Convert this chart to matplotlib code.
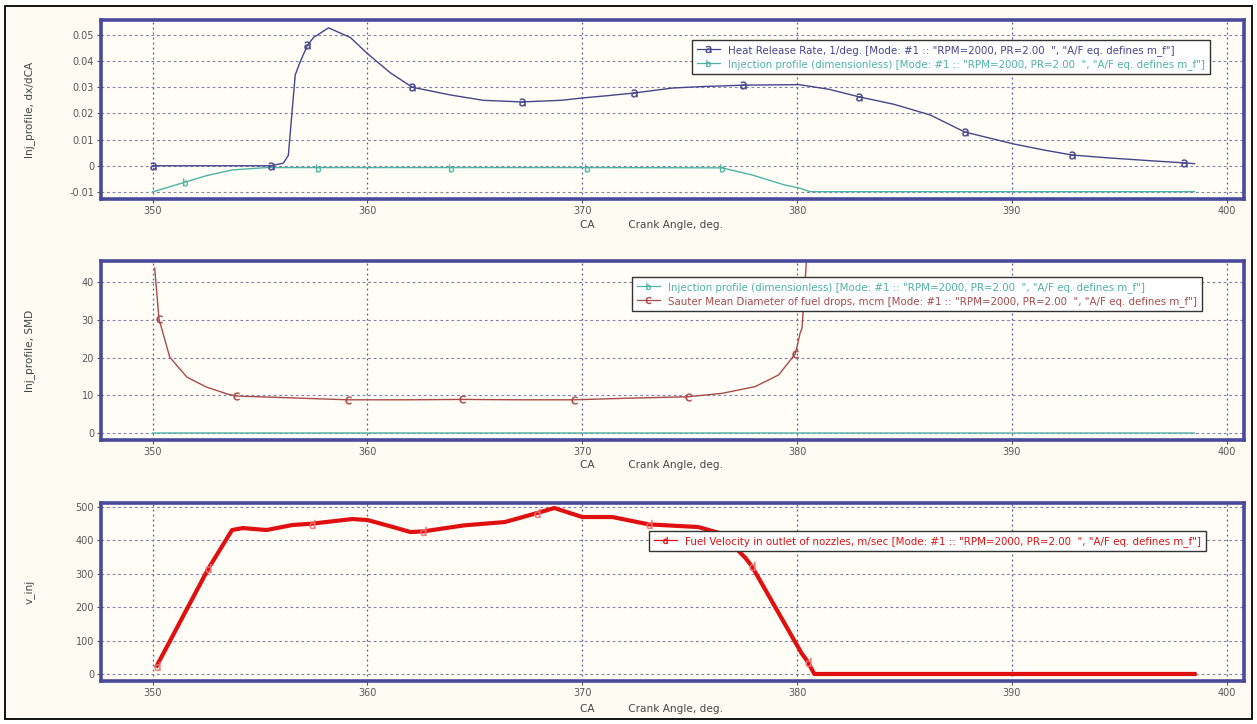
import numpy as np
import matplotlib
matplotlib.use('Agg')
import matplotlib.pyplot as plt
from matplotlib.lines import Line2D
from matplotlib.patches import Rectangle

# ---------------- data ----------------
ca_ticks = [350, 360, 370, 380, 390, 400]

hrr_x = [350, 352, 354, 355.5, 356.09, 356.32, 356.48, 356.64, 356.87, 357.21, 357.49,
         358.19, 359.21, 359.98, 361.07, 362.09, 363.9, 365.4, 367.2, 369.0, 370.0,
         371.2, 372.4, 374.2, 375.4, 377.5, 380.1, 381.5, 382.9, 384.5, 386.2, 387.8,
         389.0, 390.1, 391.5, 392.8, 394.5, 396.5, 398.0, 398.5]
hrr_y = [0, 0, 0, 0, 0.001, 0.004, 0.0194, 0.0347, 0.0397, 0.046, 0.049,
         0.0527, 0.049, 0.043, 0.0355, 0.030, 0.027, 0.025, 0.0244, 0.0250, 0.0259,
         0.0268, 0.0278, 0.0297, 0.0302, 0.0308, 0.0310, 0.0292, 0.0263, 0.0235, 0.0194, 0.0129,
         0.0105, 0.0083, 0.0060, 0.0041, 0.0030, 0.0019, 0.0011, 0.0008]
hrr_marks = [350, 355.5, 357.21, 362.09, 367.2, 372.4, 377.5, 382.9, 387.8, 392.8, 398.0]

inj_x = [350, 351.5, 352.5, 353.7, 355.3, 357.7, 363.9, 370.2, 376.5, 377.9, 379.4,
         380.1, 380.6, 398.5]
inj_y = [-0.010, -0.0063, -0.0038, -0.0016, -0.0007, -0.0007, -0.0007, -0.0007, -0.0008,
         -0.0035, -0.0073, -0.0085, -0.0099, -0.0099]
inj_marks = [351.5, 357.7, 363.9, 370.2, 376.5]

smd_x = [350.1, 350.3, 350.8, 351.6, 352.5, 353.5, 353.9, 356.0, 359.1, 362.0, 364.4,
         367.0, 369.6, 372.0, 374.9, 376.5, 378.05, 379.14, 379.92, 380.14, 380.23, 380.45]
smd_y = [43.7, 30.2, 20.1, 14.8, 12.2, 10.3, 9.8, 9.4, 8.8, 8.8, 8.9,
         8.8, 8.8, 9.2, 9.6, 10.5, 12.3, 15.4, 21.0, 26.5, 27.8, 47.0]
smd_marks = [350.3, 353.9, 359.1, 364.4, 369.6, 374.9, 379.92]

vel_x = [350.2, 352.6, 353.7, 354.2, 355.3, 356.5, 357.4, 359.3, 360.0, 361.2, 362.0,
         362.6, 364.5, 366.4, 367.9, 368.7, 370.0, 371.4, 373.1, 375.4, 376.5, 377.6,
         377.9, 380.2, 380.5, 380.8, 398.5]
vel_y = [25, 316, 431, 437, 431, 446, 450, 464, 461, 440, 425,
         427, 445, 455, 482, 497, 470, 470, 448, 440, 420, 347,
         322, 63, 36, 0, 0]
vel_marks = [350.2, 352.6, 357.4, 362.6, 367.9, 373.1, 377.9, 380.5]

mode = ' [Mode: #1 :: "RPM=2000, PR=2.00  ", "A/F eq. defines m_f"]'
lab_hrr = 'Heat Release Rate, 1/deg.' + mode
lab_inj = 'Injection profile (dimensionless)' + mode
lab_smd = 'Sauter Mean Diameter of fuel drops, mcm' + mode
lab_vel = 'Fuel Velocity in outlet of nozzles, m/sec' + mode

# ---------------- style ----------------
C_HRR = '#45458c'
C_INJ = '#4fb3a3'
C_SMD = '#a84a4a'
C_VEL = '#e01010'
SPINE = '#4a4a9c'
BG = '#fdfbf1'
AXBG = '#fffdf5'
FS = 7
LBS = 7.6
LFS = 7.4

plt.rcParams['font.family'] = ['DejaVu Sans']

W, H = 1257, 724
fig = plt.figure(figsize=(W / 100, H / 100), dpi=100, facecolor='white')
fig.patches.append(Rectangle((5 / W, 5 / H), 1247 / W, 713 / H, transform=fig.transFigure,
                             facecolor=BG, edgecolor='black', lw=1.3, zorder=-10))


def idx(xs, marks):
    return [xs.index(m) for m in marks]


def mk(ch):
    return r'$\mathsf{%s}$' % ch


def make_ax(top, bottom):
    left, right = 101, 1244
    ax = fig.add_axes([left / W, 1 - bottom / H, (right - left) / W, (bottom - top) / H])
    ax.set_facecolor(AXBG)
    for s in ax.spines.values():
        s.set_color(SPINE)
        s.set_linewidth(2.6)
    ax.set_xlim(347.6, 400.8)
    ax.set_xticks(ca_ticks)
    ax.xaxis.grid(True, color='#5656a6', ls=(0, (1.5, 2.5)), lw=0.9)
    ax.yaxis.grid(True, color='#8080ae', ls=(0, (2.5, 2.5)), lw=0.8)
    ax.set_axisbelow(True)
    ax.tick_params(labelsize=FS, colors='#555555', length=3, width=0.8, pad=2)
    ax.set_xlabel('CA          Crank Angle, deg.', fontsize=LBS, color='#444444')
    return ax


def legend(ax, handles, labels, x0, y0):
    leg = ax.legend(handles, labels, loc='upper left', bbox_to_anchor=(x0, y0),
                    fontsize=LFS, frameon=True, fancybox=False, framealpha=1,
                    facecolor='white', edgecolor='#333333', borderaxespad=0,
                    handlelength=2.3, handletextpad=0.8, borderpad=0.45,
                    labelspacing=0.3, numpoints=1)
    leg.get_frame().set_linewidth(1.0)
    for t, h in zip(leg.get_texts(), handles):
        t.set_color(h.get_color())
    return leg


def proxy(color, ch):
    return Line2D([], [], color=color, lw=0.9, marker=mk(ch), markersize=5,
                  markeredgewidth=0.3)


# ---- panel 1 ----
ax1 = make_ax(20, 199)
ax1.plot(inj_x, inj_y, color=C_INJ, lw=1.0, marker=mk('b'), markersize=5.5,
         markeredgewidth=0.3, markevery=idx(inj_x, inj_marks))
ax1.plot(hrr_x, hrr_y, color=C_HRR, lw=1.0, marker=mk('a'), markersize=5.5,
         markeredgewidth=0.3, markevery=idx(hrr_x, hrr_marks))
ax1.set_ylim(-0.0127, 0.0557)
ax1.set_yticks([-0.01, 0, 0.01, 0.02, 0.03, 0.04, 0.05])
ax1.set_yticklabels(['-0.01', '0', '0.01', '0.02', '0.03', '0.04', '0.05'])
ax1.set_ylabel('Inj_profile, dx/dCA', fontsize=LBS, color='#444444')
legend(ax1, [proxy(C_HRR, 'a'), proxy(C_INJ, 'b')], [lab_hrr, lab_inj],
       (692 - 101) / 1143, 1 - (40 - 20) / 179)

# ---- panel 2 ----
ax2 = make_ax(261, 440)
ax2.plot(inj_x, inj_y, color=C_INJ, lw=1.0)
ax2.plot(smd_x, smd_y, color=C_SMD, lw=1.0, marker=mk('c'), markersize=5.5,
         markeredgewidth=0.3, markevery=idx(smd_x, smd_marks))
ax2.set_ylim(-1.86, 45.6)
ax2.set_yticks([0, 10, 20, 30, 40])
ax2.set_ylabel('Inj_profile, SMD', fontsize=LBS, color='#444444')
legend(ax2, [proxy(C_INJ, 'b'), proxy(C_SMD, 'c')], [lab_inj, lab_smd],
       (632 - 101) / 1143, 1 - (277 - 261) / 179)

# ---- panel 3 ----
ax3 = make_ax(503, 681)
ax3.plot(vel_x, vel_y, color=C_VEL, lw=3.0, marker=mk('d'), markersize=6.5,
         markeredgewidth=0.3, markevery=idx(vel_x, vel_marks),
         markerfacecolor='#f07070', markeredgecolor='#f07070')
ax3.set_ylim(-21, 512)
ax3.set_yticks([0, 100, 200, 300, 400, 500])
ax3.set_ylabel('v_inj', fontsize=LBS, color='#444444')
legend(ax3, [proxy(C_VEL, 'd')], [lab_vel],
       (649 - 101) / 1143, 1 - (531 - 503) / 178)

for ax, top, bottom, off in [(ax1, 20, 199, 21), (ax2, 261, 440, 20), (ax3, 503, 681, 23)]:
    h = bottom - top
    ax.xaxis.set_label_coords((652 - 101) / 1143, -off / h)
    ax.yaxis.set_label_coords((35 - 101) / 1143, 0.5)

fig.savefig('out.png', dpi=100, facecolor='white')
